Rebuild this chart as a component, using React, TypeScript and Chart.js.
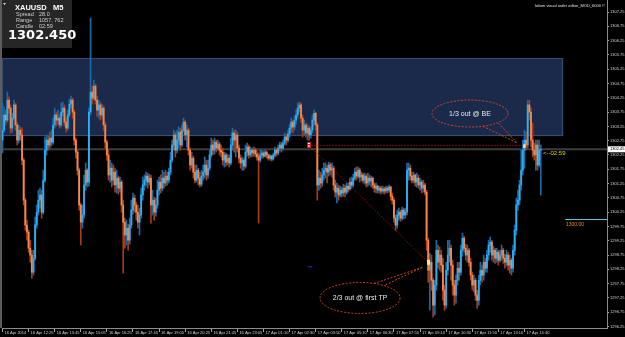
import React, { useEffect, useRef } from "react";
import { Chart, registerables } from "chart.js";

Chart.register(...registerables);

// ---------- data ----------
const symbolName = "XAUUSD";
const timeframe = "M5";
const spreadText = "28.0";
const rangeText = "1057, 762";
const candleTimer = "02:59";
const lastPriceText = "1302.450";
const watermark = "lolium visual order editor_MOD_6000 \u00a9";

const firstOpen = 1302.77;
const closes = [
  1303.12,1303.65,1303.47,1304.17,1303.89,1303.19,1303.54,1304.00,1303.30,1302.77,
  1303.12,1302.95,1302.07,1300.67,1299.80,1299.55,1298.99,1298.75,1298.15,1298.64,
  1299.80,1300.25,1300.67,1300.85,1300.25,1301.37,1302.42,1302.77,1302.60,1302.84,
  1302.70,1303.30,1303.65,1303.47,1303.54,1303.30,1303.75,1303.89,1303.40,1303.19,
  1303.65,1304.03,1304.17,1303.75,1302.77,1302.35,1301.72,1300.50,1299.90,1300.15,
  1301.20,1301.72,1301.30,1303.75,1304.45,1304.24,1304.66,1304.17,1303.82,1304.00,
  1303.65,1303.89,1303.30,1302.70,1302.25,1301.55,1301.79,1301.37,1301.65,1301.20,
  1301.44,1301.09,1301.30,1300.50,1299.90,1299.45,1299.69,1299.27,1299.80,1300.32,
  1300.74,1300.50,1300.25,1299.90,1300.15,1300.85,1301.20,1301.37,1301.51,1301.30,
  1301.44,1300.50,1300.67,1300.25,1300.50,1301.02,1301.30,1301.09,1301.44,1301.27,
  1301.51,1301.37,1301.65,1302.07,1302.60,1302.95,1302.42,1302.77,1303.05,1302.60,
  1303.12,1303.40,1302.95,1303.12,1302.42,1301.90,1302.14,1301.65,1301.37,1301.72,
  1301.44,1301.23,1301.51,1301.65,1301.90,1301.55,1301.79,1302.25,1302.60,1302.42,
  1302.70,1302.49,1302.63,1302.42,1302.35,1302.07,1302.25,1302.00,1302.14,1301.97,
  1302.60,1303.02,1302.77,1302.95,1302.49,1302.14,1301.97,1302.07,1301.86,1302.35,
  1302.53,1302.25,1302.42,1302.32,1302.42,1302.28,1302.18,1302.07,1302.25,1302.32,
  1302.21,1302.35,1302.25,1302.14,1302.21,1302.11,1302.25,1302.42,1302.32,1302.49,
  1302.60,1302.49,1302.67,1302.88,1302.77,1302.98,1303.19,1303.40,1303.23,1303.47,
  1303.65,1303.89,1304.00,1303.54,1303.12,1303.30,1303.02,1303.19,1302.95,1303.12,
  1303.47,1303.71,1303.30,1301.20,1301.44,1301.27,1301.55,1301.72,1301.79,1301.65,
  1301.90,1301.72,1301.79,1301.20,1300.95,1301.09,1300.85,1301.02,1300.92,1301.09,
  1300.95,1301.16,1301.06,1301.30,1301.20,1301.44,1301.65,1301.51,1301.72,1301.48,
  1301.55,1301.37,1301.51,1301.27,1301.44,1301.34,1301.44,1301.20,1301.09,1301.16,
  1301.02,1301.09,1300.99,1301.06,1300.99,1301.09,1301.02,1301.13,1300.81,1300.67,
  1300.04,1299.80,1300.15,1300.25,1300.04,1300.32,1300.15,1300.25,1301.72,1301.79,
  1301.51,1301.37,1301.55,1301.30,1301.44,1301.20,1301.30,1301.09,1301.20,1300.95,
  1299.27,1298.22,1298.50,1297.87,1297.00,1297.70,1298.92,1298.50,1298.75,1298.40,
  1297.52,1297.00,1298.22,1298.75,1298.99,1298.40,1297.70,1297.35,1297.87,1298.29,
  1298.15,1298.92,1299.34,1298.99,1298.75,1298.92,1298.50,1298.05,1297.70,1297.87,
  1297.35,1297.17,1297.87,1298.22,1298.05,1298.50,1298.29,1298.75,1299.10,1299.20,
  1298.75,1298.92,1298.64,1298.85,1298.57,1298.75,1298.92,1298.64,1298.50,1298.75,
  1298.40,1298.57,1298.29,1298.92,1299.62,1300.50,1300.67,1301.20,1301.72,1302.42,
  1302.77,1302.60,1304.00,1303.75,1302.77,1302.42,1302.25,1302.60,1301.90,1302.42,1302.45,
];
const highs = [
  1304.07,1303.93,1303.82,1304.45,1304.28,1304.00,1303.71,1304.17,1304.07,1303.40,
  1303.30,1303.23,1303.19,1302.14,1300.74,1299.97,1299.62,1299.27,1298.92,1298.92,
  1300.08,1300.50,1301.02,1301.09,1301.02,1301.72,1302.88,1302.95,1302.91,1303.05,
  1303.12,1303.54,1303.89,1303.75,1303.82,1303.68,1304.07,1304.10,1304.00,1303.54,
  1303.82,1304.21,1304.31,1304.24,1303.82,1302.84,1302.42,1301.79,1300.57,1300.50,
  1301.55,1301.97,1301.79,1303.89,1307.04,1304.66,1304.87,1304.73,1304.31,1304.17,
  1304.10,1304.03,1303.96,1303.40,1302.77,1302.42,1302.07,1301.97,1301.90,1301.79,
  1301.72,1301.51,1301.48,1301.37,1300.67,1300.04,1299.97,1299.83,1300.04,1300.67,
  1300.92,1300.85,1300.60,1300.50,1300.39,1301.09,1301.48,1301.55,1301.65,1301.62,
  1301.58,1301.55,1301.02,1300.78,1300.74,1301.37,1301.48,1301.55,1301.72,1301.65,
  1301.72,1301.65,1301.79,1302.35,1302.77,1303.12,1303.05,1303.12,1303.23,1303.19,
  1303.30,1303.54,1303.47,1303.30,1303.19,1302.49,1302.35,1302.21,1301.90,1301.90,
  1301.79,1301.65,1301.72,1301.90,1302.18,1302.07,1302.07,1302.42,1302.84,1302.77,
  1302.84,1302.77,1302.77,1302.70,1302.60,1302.49,1302.35,1302.32,1302.28,1302.25,
  1302.84,1303.19,1303.12,1303.12,1303.05,1302.60,1302.25,1302.18,1302.14,1302.60,
  1302.67,1302.60,1302.53,1302.49,1302.53,1302.49,1302.42,1302.32,1302.42,1302.42,
  1302.39,1302.42,1302.39,1302.28,1302.28,1302.25,1302.32,1302.53,1302.49,1302.60,
  1302.70,1302.70,1302.77,1303.02,1302.98,1303.12,1303.33,1303.54,1303.47,1303.61,
  1303.82,1304.07,1304.10,1304.07,1303.65,1303.47,1303.37,1303.33,1303.26,1303.23,
  1303.65,1303.82,1303.75,1303.37,1301.72,1301.65,1301.79,1301.97,1301.97,1301.90,
  1302.00,1301.97,1301.97,1301.86,1301.37,1301.27,1301.20,1301.16,1301.13,1301.23,
  1301.20,1301.27,1301.27,1301.44,1301.48,1301.58,1301.79,1301.83,1301.83,1301.79,
  1301.65,1301.62,1301.62,1301.58,1301.62,1301.55,1301.51,1301.48,1301.27,1301.27,
  1301.20,1301.16,1301.16,1301.16,1301.13,1301.16,1301.16,1301.20,1301.16,1300.92,
  1300.74,1300.15,1300.32,1300.39,1300.32,1300.43,1300.39,1300.39,1301.97,1301.97,
  1301.90,1301.65,1301.65,1301.58,1301.62,1301.55,1301.44,1301.37,1301.37,1301.27,
  1301.02,1299.34,1298.81,1298.75,1297.94,1297.87,1299.27,1299.10,1299.03,1298.92,
  1298.64,1297.70,1298.50,1299.27,1299.27,1299.10,1298.57,1297.87,1298.05,1298.50,
  1298.50,1299.10,1299.52,1299.41,1299.13,1299.10,1298.99,1298.64,1298.15,1298.05,
  1297.94,1297.52,1298.05,1298.50,1298.40,1298.75,1298.64,1298.92,1299.27,1299.38,
  1299.27,1299.06,1298.99,1298.99,1298.92,1298.92,1299.10,1298.99,1298.78,1298.92,
  1298.85,1298.75,1298.64,1299.10,1299.80,1300.74,1301.02,1301.37,1302.42,1302.77,
  1303.12,1303.05,1304.17,1304.17,1303.89,1303.37,1302.67,1302.77,1302.77,1302.77,1302.60,
];
const lows = [
  1302.32,1303.05,1303.30,1303.40,1303.71,1303.02,1303.05,1303.47,1303.12,1302.60,
  1302.67,1302.77,1301.90,1300.50,1299.62,1299.27,1298.85,1298.50,1297.94,1298.05,
  1298.57,1299.69,1300.15,1300.39,1300.04,1300.18,1301.30,1302.25,1302.42,1302.49,
  1302.56,1302.63,1303.19,1303.26,1303.33,1303.19,1303.23,1303.61,1303.26,1303.05,
  1303.12,1303.58,1303.89,1303.54,1302.60,1302.14,1301.55,1300.32,1299.10,1299.69,
  1300.04,1301.02,1301.13,1301.16,1303.65,1304.03,1304.17,1304.03,1303.61,1303.54,
  1303.47,1303.54,1303.12,1302.49,1302.07,1301.37,1301.30,1301.13,1301.20,1300.95,
  1300.92,1300.88,1300.95,1300.25,1298.12,1298.99,1299.10,1298.92,1299.13,1299.69,
  1300.18,1300.25,1299.97,1299.69,1299.45,1300.04,1300.67,1301.02,1301.16,1301.09,
  1301.20,1299.87,1300.15,1299.97,1300.11,1300.39,1300.85,1300.92,1300.99,1301.09,
  1301.16,1301.20,1301.27,1301.55,1302.00,1302.42,1302.18,1302.32,1302.49,1302.42,
  1302.53,1303.05,1302.77,1302.53,1302.25,1301.72,1301.79,1301.44,1301.27,1301.30,
  1301.20,1301.13,1301.16,1301.37,1301.44,1301.37,1301.44,1301.72,1302.18,1302.25,
  1302.28,1302.35,1302.42,1302.25,1302.18,1301.90,1301.83,1301.86,1301.90,1301.83,
  1301.90,1302.42,1302.35,1302.18,1302.35,1301.97,1301.79,1301.72,1301.72,1301.79,
  1302.21,1302.14,1302.18,1302.18,1302.21,1302.18,1302.07,1299.87,1302.00,1302.14,
  1302.14,1302.18,1302.14,1302.07,1302.07,1302.04,1302.07,1302.18,1302.21,1302.25,
  1302.39,1302.35,1302.42,1302.60,1302.60,1302.70,1302.88,1303.05,1303.02,1303.12,
  1303.33,1303.54,1303.75,1303.40,1302.88,1302.95,1302.88,1302.77,1302.77,1302.84,
  1303.02,1303.30,1303.12,1300.67,1301.02,1301.09,1301.16,1301.37,1301.44,1301.27,
  1301.51,1301.55,1301.48,1301.02,1300.78,1300.57,1300.67,1300.78,1300.78,1300.81,
  1300.78,1300.88,1300.95,1301.02,1301.09,1301.13,1301.37,1301.37,1301.44,1301.30,
  1301.34,1301.27,1301.23,1301.13,1301.16,1301.20,1301.13,1301.09,1300.95,1300.92,
  1300.92,1300.92,1300.88,1300.92,1300.88,1300.92,1300.92,1300.95,1300.67,1300.53,
  1299.90,1299.62,1299.69,1299.97,1299.93,1299.97,1300.01,1300.04,1300.15,1301.37,
  1301.37,1301.27,1301.27,1301.16,1301.13,1301.09,1301.02,1300.92,1300.95,1300.85,
  1298.92,1297.80,1296.82,1297.52,1296.58,1296.65,1297.52,1298.29,1298.22,1298.15,
  1297.17,1296.82,1296.89,1298.05,1298.50,1297.87,1297.35,1297.00,1297.07,1297.70,
  1297.87,1298.05,1298.71,1298.85,1298.57,1298.50,1298.36,1297.87,1297.52,1297.45,
  1297.17,1296.89,1297.00,1297.70,1297.80,1297.87,1298.15,1298.15,1298.57,1298.85,
  1298.57,1298.50,1298.46,1298.50,1298.40,1298.50,1298.57,1298.46,1298.29,1298.36,
  1298.22,1298.12,1298.05,1298.15,1298.75,1299.45,1300.32,1300.50,1301.02,1301.55,
  1301.79,1302.42,1302.49,1303.47,1302.53,1302.18,1302.07,1301.72,1301.72,1301.83,1300.85,
];

const timeLabels = [
  "16 Apr 2014","16 Apr 12:25","16 Apr 13:45","16 Apr 15:05","16 Apr 16:25","16 Apr 17:45",
  "16 Apr 19:05","16 Apr 20:25","16 Apr 21:45","16 Apr 23:05","17 Apr 01:10","17 Apr 02:30",
  "17 Apr 03:50","17 Apr 05:10","17 Apr 06:30","17 Apr 07:50","17 Apr 09:10","17 Apr 10:30",
  "17 Apr 11:50","17 Apr 13:10","17 Apr 14:30",
];
const timeTickIndex = [0,16,32,48,64,80,96,112,128,144,160,176,192,208,224,240,256,272,288,304,320];
const priceTicks = [
  1296.25,1296.75,1297.25,1297.75,1298.25,1298.75,1299.25,1299.75,1300.25,1300.75,1301.25,
  1301.75,1302.25,1302.75,1303.25,1303.75,1304.25,1304.75,1305.25,1305.75,1306.25,1306.75,1307.25,
];

const priceMin = 1296.2;
const priceMax = 1307.67;
const indexMin = -0.3;
const indexMax = 370.6;

const zoneTop = 1305.64;
const zoneBottom = 1302.91;
const zoneEndIndex = 343.7;
const bidPrice = 1302.45;
const bidLabel = "1302.45";
const levelPrice = 1300.0;
const levelLabel = "1300.00";

const entryPoint = { index: 187.6, price: 1302.6 };
const beExit = { index: 319.8, price: 1302.57 };
const tpExit = { index: 260.9, price: 1298.5 };
const blueMark = { index: 188.5, price: 1298.36 };
const bubbleBE = { index: 286.6, price: 1303.7, tipIndex: 315.5, tipPrice: 1302.67, text: "1/3 out @ BE" };
const bubbleTP = { index: 219.2, price: 1297.25, tipIndex: 257.8, tipPrice: 1298.33, text: "2/3 out @ first TP" };

// ---------- colours ----------
const upBody = "#2cb0f4";
const upWick = "#1a6aa6";
const downBody = "#f5884a";
const downWick = "#a83c16";

export default function App() {
  const ref = useRef<HTMLCanvasElement>(null);

  useEffect(() => {
    document.body.style.margin = "0";
    document.body.style.background = "#000";
    const canvas = ref.current;
    if (!canvas) return;

    const opens = closes.map((c, i) => (i === 0 ? firstOpen : closes[i - 1]));
    const isUp = closes.map((c, i) => c >= opens[i]);
    const bodyData = closes.map((c, i) => ({ x: i, y: [opens[i], c] }));
    const wickData = closes.map((c, i) => ({
      x: i,
      y: [Math.min(lows[i], opens[i], c), Math.max(highs[i], opens[i], c)],
    }));

    const overlay = {
      id: "mt4overlay",
      beforeDatasetsDraw(chart: any) {
        const { ctx, chartArea: a, scales } = chart;
        const x = scales.x, y = scales.y;
        ctx.save();
        const zx1 = x.getPixelForValue(zoneEndIndex);
        const zy0 = y.getPixelForValue(zoneTop);
        const zy1 = y.getPixelForValue(zoneBottom);
        ctx.fillStyle = "rgb(27,42,74)";
        ctx.fillRect(a.left, zy0, zx1 - a.left, zy1 - zy0);
        ctx.strokeStyle = "rgba(62,82,122,0.9)";
        ctx.lineWidth = 1;
        ctx.strokeRect(a.left + 0.5, Math.round(zy0) + 0.5, zx1 - a.left - 1, zy1 - zy0 - 1);
        // bid line
        const by = y.getPixelForValue(bidPrice);
        ctx.strokeStyle = "#3c3c3c";
        ctx.lineWidth = 2;
        ctx.beginPath();
        ctx.moveTo(a.left, by);
        ctx.lineTo(a.right, by);
        ctx.stroke();
        // 1300 level
        const ly = Math.round(y.getPixelForValue(levelPrice)) + 0.5;
        ctx.strokeStyle = "#58c4d4";
        ctx.lineWidth = 1;
        ctx.beginPath();
        ctx.moveTo(zx1 + 2, ly);
        ctx.lineTo(a.right, ly);
        ctx.stroke();
        ctx.restore();
      },
      afterDatasetsDraw(chart: any) {
        const { ctx, scales } = chart;
        const x = scales.x, y = scales.y;
        const px = (i: number) => x.getPixelForValue(i);
        const py = (p: number) => y.getPixelForValue(p);
        ctx.save();
        // dotted trade lines
        ctx.strokeStyle = "#d01414";
        ctx.lineWidth = 1;
        ctx.setLineDash([1, 2]);
        ctx.beginPath();
        ctx.moveTo(px(entryPoint.index), Math.round(py(entryPoint.price)) + 0.5);
        ctx.lineTo(px(beExit.index), Math.round(py(entryPoint.price)) + 0.5);
        ctx.stroke();
        ctx.beginPath();
        ctx.moveTo(px(entryPoint.index), py(entryPoint.price));
        ctx.lineTo(px(tpExit.index), py(tpExit.price));
        ctx.stroke();
        ctx.setLineDash([]);
        // markers
        const ex = px(entryPoint.index), ey = py(entryPoint.price);
        ctx.fillStyle = "#e01818";
        ctx.fillRect(ex - 1.5, ey - 3, 4, 6);
        ctx.fillStyle = "#ffffff";
        ctx.fillRect(ex - 0.5, ey - 2, 2, 1);
        ctx.fillRect(ex - 0.5, ey + 0.5, 2, 1);
        ctx.fillStyle = "#ffe890";
        ctx.fillRect(px(beExit.index) - 1, py(beExit.price) - 1.5, 2.5, 3.5);
        ctx.fillRect(px(tpExit.index) - 1, py(tpExit.price) - 2.5, 3, 5);
        ctx.fillStyle = "#1a2fb0";
        ctx.fillRect(px(blueMark.index) - 2.5, py(blueMark.price), 5, 1);

        // bubbles
        const drawBubble = (b: any, rx: number, ry: number, bases: number[][]) => {
          const cx = px(b.index), cy = py(b.price);
          const tx = px(b.tipIndex), ty = py(b.tipPrice);
          ctx.strokeStyle = "#c8452c";
          ctx.lineWidth = 1;
          ctx.setLineDash([2, 1.5]);
          ctx.beginPath();
          ctx.ellipse(cx, cy, rx, ry, 0, 0, Math.PI * 2);
          ctx.stroke();
          ctx.beginPath();
          ctx.moveTo(cx + bases[0][0], cy + bases[0][1]);
          ctx.lineTo(tx, ty);
          ctx.lineTo(cx + bases[1][0], cy + bases[1][1]);
          ctx.stroke();
          ctx.setLineDash([]);
          ctx.fillStyle = "#eaeaea";
          ctx.font = '7px "Liberation Sans", Arial, sans-serif';
          ctx.textAlign = "center";
          ctx.textBaseline = "middle";
          ctx.fillText(b.text, cx, cy + 0.5);
        };
        drawBubble(bubbleBE, 38, 13.5, [[13, 12.7], [28, 9.1]]);
        drawBubble(bubbleTP, 40, 15.5, [[14, -14.5], [24, -12.4]]);
        ctx.restore();
      },
      afterDraw(chart: any) {
        const { ctx, chartArea: a, scales } = chart;
        const y = scales.y;
        ctx.save();
        // left border strip
        ctx.fillStyle = "#5c5c5c";
        ctx.fillRect(0, 0, 2, a.bottom);
        // info panel
        ctx.fillStyle = "#262626";
        ctx.fillRect(2, 0, 70, 48);
        ctx.fillStyle = "#d8d8d8";
        ctx.beginPath();
        ctx.moveTo(3, 3);
        ctx.lineTo(6, 3);
        ctx.lineTo(4.5, 5);
        ctx.closePath();
        ctx.fill();
        ctx.textAlign = "left";
        ctx.textBaseline = "alphabetic";
        ctx.fillStyle = "#ffffff";
        ctx.font = 'bold 7.5px "Liberation Sans", Arial, sans-serif';
        ctx.fillText(symbolName, 15, 9.5);
        ctx.fillText(timeframe, 53, 9.5);
        ctx.fillStyle = "#d0d0d0";
        ctx.font = '5.5px "Liberation Sans", Arial, sans-serif';
        ctx.fillText("Spread", 16, 15.5);
        ctx.fillText(spreadText, 39, 15.5);
        ctx.fillText("Range", 16, 21.5);
        ctx.fillText(rangeText, 39, 21.5);
        ctx.fillText("Candle", 16, 27.5);
        ctx.fillText(candleTimer, 39, 27.5);
        ctx.fillStyle = "#ffffff";
        ctx.font = 'bold 13px "DejaVu Sans", sans-serif';
        ctx.fillText(lastPriceText, 8, 38.5);
        // watermark
        ctx.font = '4px "Liberation Sans", Arial, sans-serif';
        ctx.fillStyle = "#e0e0e0";
        ctx.textAlign = "right";
        ctx.fillText(watermark, 605, 7);
        // countdown
        ctx.textAlign = "left";
        ctx.font = '6px "Liberation Sans", Arial, sans-serif';
        ctx.fillStyle = "#dcd400";
        ctx.fillText("<--" + candleTimer, 543, 155);
        // level label
        ctx.font = '5px "Liberation Sans", Arial, sans-serif';
        ctx.fillStyle = "#e28c24";
        ctx.fillText(levelLabel, 566, 226);
        // current price box on axis
        const by = y.getPixelForValue(bidPrice);
        ctx.fillStyle = "#ffffff";
        ctx.fillRect(a.right + 1, by - 3, 17, 6);
        ctx.fillStyle = "#000000";
        ctx.font = '4px "Liberation Sans", Arial, sans-serif';
        ctx.textBaseline = "middle";
        ctx.fillText(bidLabel, a.right + 3, by);
        ctx.restore();
      },
    };

    const chart = new Chart(canvas, {
      type: "bar",
      data: {
        datasets: [
          {
            label: "body",
            data: bodyData as any,
            backgroundColor: isUp.map((u) => (u ? upBody : downBody)),
            barThickness: 1.2,
            minBarLength: 1,
            grouped: false,
            order: 0,
            borderWidth: 0,
          } as any,
          {
            label: "wick",
            data: wickData as any,
            backgroundColor: isUp.map((u) => (u ? upWick : downWick)),
            barThickness: 1,
            grouped: false,
            order: 1,
            borderWidth: 0,
          } as any,
        ],
      },
      options: {
        responsive: false,
        animation: false,
        devicePixelRatio: 1,
        events: [],
        layout: { padding: { left: 2, right: 0, top: 0, bottom: 0 } },
        plugins: { legend: { display: false }, tooltip: { enabled: false } },
        scales: {
          x: {
            type: "linear",
            min: indexMin,
            max: indexMax,
            offset: false,
            position: "bottom",
            grid: { display: true, drawOnChartArea: false, drawTicks: true, tickLength: 4, color: "#a8a8a8", offset: false },
            border: { display: true, color: "#8c8c8c" },
            afterBuildTicks: (s: any) => {
              s.ticks = timeTickIndex.map((v) => ({ value: v }));
            },
            afterFit: (s: any) => {
              s.height = 9;
              s.paddingLeft = 0;
              s.paddingRight = 0;
            },
            ticks: {
              autoSkip: false,
              maxRotation: 0,
              minRotation: 0,
              align: "start",
              padding: -2,
              labelOffset: 2,
              color: "#d0d0d0",
              font: { size: 4, family: '"Liberation Sans", Arial, sans-serif' },
              callback: (v: any) => {
                const k = timeTickIndex.indexOf(Number(v));
                return k >= 0 ? timeLabels[k] : "";
              },
            },
          } as any,
          y: {
            type: "linear",
            position: "right",
            min: priceMin,
            max: priceMax,
            grid: { display: true, drawOnChartArea: false, drawTicks: true, tickLength: 2, color: "#a8a8a8" },
            border: { display: true, color: "#8c8c8c" },
            afterBuildTicks: (s: any) => {
              s.ticks = priceTicks.map((v) => ({ value: v }));
            },
            afterFit: (s: any) => {
              s.width = 18;
              s.paddingTop = 0;
              s.paddingBottom = 0;
            },
            ticks: {
              padding: 1,
              color: "#d0d0d0",
              font: { size: 4, family: '"Liberation Sans", Arial, sans-serif' },
              callback: (v: any) => Number(v).toFixed(2),
            },
          } as any,
        },
      },
      plugins: [overlay],
    });

    return () => chart.destroy();
  }, []);

  return (
    <div style={{ width: 625, height: 337, background: "#000" }}>
      <canvas ref={ref} width={625} height={337} style={{ display: "block" }} />
    </div>
  );
}
